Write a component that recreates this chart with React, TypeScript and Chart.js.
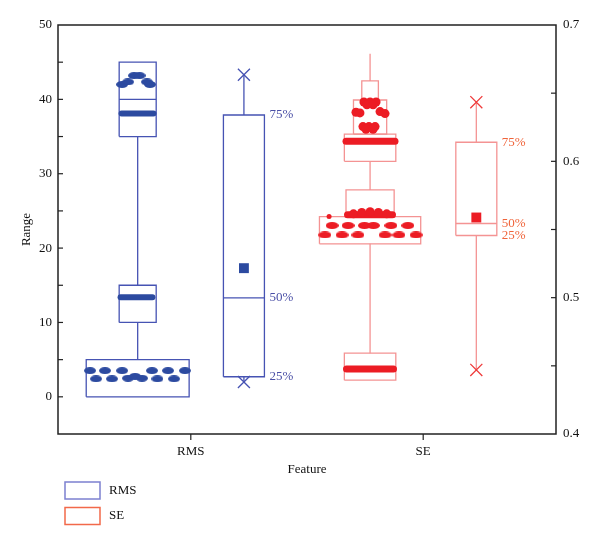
import React, { useEffect, useRef } from 'react';
import { Chart, registerables } from 'chart.js';

Chart.register(...registerables);

// ---------- data ----------
const CATEGORIES = ['RMS', 'SE'];
const CATEGORY_X = [0.8, 2.2];
const RAW_X = [0.48, 1.88];
const STAT_X = [1.12, 2.52];
const STAT_BOX_WIDTH = 0.247;
const LEFT_RANGE = [-5, 50];
const RIGHT_RANGE = [0.4, 0.7];
const PERCENT_LABELS = ['25%', '50%', '75%'];

// RMS (left axis): [low, high, width]
const RMS_BOXES = [
  [0, 5, 0.62],
  [10, 15, 0.223],
  [35, 45, 0.223],
];
const RMS_INNER_LINES = [[40, 0.223]]; // [y, width]
const RMS_WHISKERS = [
  [5, 10],
  [15, 35],
];
// [x, y]
const RMS_POINTS = [
  [0.193, 3.52], [0.283, 3.52], [0.386, 3.52], [0.566, 3.52], [0.663, 3.52], [0.765, 3.52],
  [0.229, 2.42], [0.325, 2.42], [0.599, 2.42], [0.699, 2.42],
  [0.422, 2.5], [0.464, 2.75], [0.506, 2.5],
  [0.458, 43.2], [0.491, 43.2],
  [0.386, 42.0], [0.422, 42.35], [0.536, 42.35], [0.554, 42.0],
];
// [y, xFrom, xTo]
const RMS_BANDS = [
  [38.1, 0.383, 0.575],
  [13.4, 0.377, 0.569],
];
// min, q1, median, q3, max, mean
const RMS_STATS = [2.0, 2.7, 13.3, 37.9, 43.3, 17.3];

// SE (right axis): [low, high, width]
const SE_BOXES = [
  [0.645, 0.659, 0.1],
  [0.62, 0.645, 0.2],
  [0.6, 0.62, 0.31],
  [0.5595, 0.579, 0.29],
  [0.5395, 0.5595, 0.61],
  [0.4395, 0.4593, 0.31],
];
const SE_WHISKERS = [
  [0.659, 0.679],
  [0.579, 0.6],
  [0.4593, 0.5395],
];
// round clusters [x, y]
const SE_CLUSTER_POINTS = [
  [1.843, 0.6435], [1.88, 0.6435], [1.916, 0.6435], [1.861, 0.6415], [1.898, 0.6415],
  [1.795, 0.636], [1.819, 0.6355], [1.94, 0.6365], [1.97, 0.635],
  [1.837, 0.6255], [1.873, 0.6255], [1.91, 0.6255], [1.855, 0.6235], [1.898, 0.6235],
  [1.78, 0.5615], [1.83, 0.5625], [1.88, 0.563], [1.93, 0.5625], [1.98, 0.5615],
];
// elongated blobs [x, y]
const SE_POINTS = [
  [1.651, 0.5529], [1.747, 0.5529], [1.846, 0.5529], [1.9, 0.5529], [2.006, 0.5529], [2.108, 0.5529],
  [1.608, 0.546], [1.711, 0.546], [1.807, 0.546], [1.97, 0.546], [2.054, 0.546], [2.157, 0.546],
];
const SE_SMALL_POINTS = [[1.633, 0.5596]];
const SE_BANDS = [
  [0.6147, 1.735, 2.03],
  [0.5608, 1.744, 2.015],
  [0.4476, 1.738, 2.021],
];
const SE_STATS = [0.447, 0.5456, 0.5544, 0.614, 0.6434, 0.5588];

// ---------- styles ----------
const FONT = 'Liberation Serif';
const BLUE_BOX = '#4653b3';
const BLUE_POINT = '#2c4aa0';
const BLUE_TEXT = '#4a4fa6';
const RED_BOX = '#f49393';
const RED_POINT = '#ec1c24';
const RED_TEXT = '#f0643a';
const LEGEND_COLORS = ['#7c80d0', '#f2694a'];

function ellipseImage(w: number, h: number, color: string) {
  const c = document.createElement('canvas');
  c.width = w;
  c.height = h;
  const g = c.getContext('2d')!;
  g.fillStyle = color;
  g.beginPath();
  g.ellipse(w / 2, h / 2, w / 2, h / 2, 0, 0, Math.PI * 2);
  g.fill();
  return c;
}

function boxPath(cx: number, lo: number, hi: number, w: number) {
  const l = cx - w / 2;
  const r = cx + w / 2;
  return [
    { x: l, y: lo },
    { x: r, y: lo },
    { x: r, y: hi },
    { x: l, y: hi },
    { x: l, y: lo },
  ];
}

function lineDs(data: any[], color: string, width: number, axis: string, order: number, extra: any = {}) {
  return {
    data,
    yAxisID: axis,
    showLine: true,
    borderColor: color,
    backgroundColor: color,
    borderWidth: width,
    pointRadius: 0,
    pointHoverRadius: 0,
    fill: false,
    tension: 0,
    order,
    ...extra,
  };
}

function buildGroup(
  axis: string,
  rawX: number,
  statX: number,
  boxes: number[][],
  inner: number[][],
  whiskers: number[][],
  bands: number[][],
  stats: number[],
  boxColor: string,
  pointColor: string,
  markerColor: string,
) {
  const ds: any[] = [];
  boxes.forEach(([lo, hi, w]) => ds.push(lineDs(boxPath(rawX, lo, hi, w), boxColor, 1.3, axis, 5, { borderJoinStyle: 'miter' })));
  inner.forEach(([y, w]) => ds.push(lineDs([{ x: rawX - w / 2, y }, { x: rawX + w / 2, y }], boxColor, 1.3, axis, 5)));
  whiskers.forEach(([a, b]) => ds.push(lineDs([{ x: rawX, y: a }, { x: rawX, y: b }], boxColor, 1.3, axis, 5)));
  bands.forEach(([y, x0, x1], i) =>
    ds.push(lineDs([{ x: x0, y }, { x: x1, y }], pointColor, axis === 'y' ? 6 : i === 1 ? 7 : 7, axis, 1, { borderCapStyle: 'round' })),
  );
  const [mn, q1, med, q3, mx, mean] = stats;
  const w = STAT_BOX_WIDTH;
  ds.push(lineDs(boxPath(statX, q1, q3, w), boxColor, 1.3, axis, 5, { borderJoinStyle: 'miter' }));
  ds.push(lineDs([{ x: statX - w / 2, y: med }, { x: statX + w / 2, y: med }], boxColor, 1.3, axis, 5));
  ds.push(lineDs([{ x: statX, y: q3 }, { x: statX, y: mx }], boxColor, 1.3, axis, 5));
  ds.push(lineDs([{ x: statX, y: mn }, { x: statX, y: q1 }], boxColor, 1.3, axis, 5));
  ds.push({
    data: [{ x: statX, y: mean }],
    yAxisID: axis,
    pointStyle: 'rect',
    pointRadius: 7,
    pointBackgroundColor: pointColor,
    pointBorderColor: pointColor,
    pointBorderWidth: 0,
    order: 0,
  });
  ds.push({
    data: [
      { x: statX, y: mn },
      { x: statX, y: mx },
    ],
    yAxisID: axis,
    pointStyle: 'crossRot',
    pointRadius: 8.5,
    pointBorderColor: markerColor,
    pointBackgroundColor: markerColor,
    pointBorderWidth: 1.3,
    order: 0,
  });
  return ds;
}

export default function App() {
  const ref = useRef<HTMLCanvasElement | null>(null);

  useEffect(() => {
    document.body.style.margin = '0';
    if (!ref.current) return;

    const blueBlob = ellipseImage(12, 7, BLUE_POINT);
    const redBlob = ellipseImage(13, 7, RED_POINT);

    const datasets: any[] = [
      ...buildGroup('y', RAW_X[0], STAT_X[0], RMS_BOXES, RMS_INNER_LINES, RMS_WHISKERS, RMS_BANDS, RMS_STATS, BLUE_BOX, BLUE_POINT, BLUE_BOX),
      ...buildGroup('y1', RAW_X[1], STAT_X[1], SE_BOXES, [], SE_WHISKERS, SE_BANDS, SE_STATS, RED_BOX, RED_POINT, '#ef3a3a'),
      {
        data: RMS_POINTS.map(([x, y]) => ({ x, y })),
        yAxisID: 'y',
        pointStyle: blueBlob,
        pointRadius: 5,
        order: 0,
      },
      {
        data: SE_POINTS.map(([x, y]) => ({ x, y })),
        yAxisID: 'y1',
        pointStyle: redBlob,
        pointRadius: 5,
        order: 0,
      },
      {
        data: SE_CLUSTER_POINTS.map(([x, y]) => ({ x, y })),
        yAxisID: 'y1',
        pointStyle: 'circle',
        pointRadius: 4.5,
        pointBackgroundColor: RED_POINT,
        pointBorderWidth: 0,
        order: 0,
      },
      {
        data: SE_SMALL_POINTS.map(([x, y]) => ({ x, y })),
        yAxisID: 'y1',
        pointStyle: 'circle',
        pointRadius: 2.5,
        pointBackgroundColor: RED_POINT,
        pointBorderWidth: 0,
        order: 0,
      },
    ];

    const decor = {
      id: 'decor',
      afterDraw(chart: any) {
        const { ctx, chartArea: a, scales } = chart;
        ctx.save();
        ctx.strokeStyle = '#222';
        ctx.lineWidth = 1.5;
        ctx.strokeRect(a.left, a.top, a.right - a.left, a.bottom - a.top);
        ctx.lineWidth = 1.2;
        const seg = (x0: number, y0: number, x1: number, y1: number) => {
          ctx.beginPath();
          ctx.moveTo(x0, y0);
          ctx.lineTo(x1, y1);
          ctx.stroke();
        };
        scales.y.ticks.forEach((t: any) => {
          if (t.value <= LEFT_RANGE[0] + 1e-9 || t.value >= LEFT_RANGE[1] - 1e-9) return;
          const py = scales.y.getPixelForValue(t.value);
          seg(a.left, py, a.left + 5, py);
        });
        scales.y1.ticks.forEach((t: any) => {
          if (t.value <= RIGHT_RANGE[0] + 1e-9 || t.value >= RIGHT_RANGE[1] - 1e-9) return;
          const py = scales.y1.getPixelForValue(t.value);
          seg(a.right - 5, py, a.right, py);
        });
        CATEGORY_X.forEach((v) => {
          const px = scales.x.getPixelForValue(v);
          seg(px, a.bottom, px, a.bottom + 6);
        });

        // percentile labels
        ctx.font = `13px "${FONT}"`;
        ctx.textAlign = 'left';
        ctx.textBaseline = 'middle';
        const groups = [
          { stats: RMS_STATS, axis: scales.y, color: BLUE_TEXT, x: STAT_X[0] },
          { stats: SE_STATS, axis: scales.y1, color: RED_TEXT, x: STAT_X[1] },
        ];
        groups.forEach((g) => {
          ctx.fillStyle = g.color;
          const lx = scales.x.getPixelForValue(g.x + STAT_BOX_WIDTH / 2) + 5;
          [g.stats[1], g.stats[2], g.stats[3]].forEach((v, i) => {
            ctx.fillText(PERCENT_LABELS[i], lx, g.axis.getPixelForValue(v));
          });
        });

        // legend
        ctx.lineWidth = 1.5;
        CATEGORIES.forEach((name, i) => {
          const top = 482 + i * 25.5;
          ctx.strokeStyle = LEGEND_COLORS[i];
          ctx.strokeRect(65, top, 35, 17);
          ctx.fillStyle = '#111';
          ctx.fillText(name, 109, top + 8.5);
        });
        ctx.restore();
      },
    };

    const chart = new Chart(ref.current, {
      type: 'scatter',
      data: { datasets },
      plugins: [decor],
      options: {
        animation: false,
        responsive: true,
        maintainAspectRatio: false,
        layout: { padding: { top: 25, left: 0, right: 0, bottom: 0 } },
        plugins: { legend: { display: false }, tooltip: { enabled: false } },
        events: [],
        font: { family: FONT, size: 13 },
        color: '#111',
        scales: {
          x: {
            type: 'linear',
            min: 0,
            max: 3,
            position: 'bottom',
            grid: { display: false, drawTicks: false },
            border: { display: false },
            afterBuildTicks: (s: any) => {
              s.ticks = CATEGORY_X.map((v) => ({ value: v }));
            },
            afterFit: (s: any) => {
              s.height = 112;
            },
            ticks: {
              padding: 10,
              color: '#111',
              font: { family: FONT, size: 13 },
              autoSkip: false,
              maxRotation: 0,
              callback: (v: any) => {
                const i = CATEGORY_X.indexOf(Number(v));
                return i >= 0 ? CATEGORIES[i] : '';
              },
            },
            title: {
              display: true,
              text: 'Feature',
              color: '#111',
              font: { family: FONT, size: 13 },
              padding: { top: 0, bottom: 69 },
            },
          },
          y: {
            type: 'linear',
            position: 'left',
            min: LEFT_RANGE[0],
            max: LEFT_RANGE[1],
            grid: { display: false, drawTicks: false },
            border: { display: false },
            afterFit: (s: any) => {
              s.width = 58;
            },
            ticks: {
              stepSize: 5,
              padding: 6,
              color: '#111',
              font: { family: FONT, size: 13 },
              autoSkip: false,
              callback: (v: any) => (v >= 0 && v % 10 === 0 ? String(v) : ''),
            },
            title: {
              display: true,
              text: 'Range',
              color: '#111',
              font: { family: FONT, size: 13 },
              padding: { top: 19, bottom: 0 },
            },
          },
          y1: {
            type: 'linear',
            position: 'right',
            min: RIGHT_RANGE[0],
            max: RIGHT_RANGE[1],
            grid: { display: false, drawTicks: false },
            border: { display: false },
            afterFit: (s: any) => {
              s.width = 44;
            },
            ticks: {
              stepSize: 0.05,
              padding: 7,
              color: '#111',
              font: { family: FONT, size: 13 },
              autoSkip: false,
              callback: (v: any) => {
                const t = Math.round(Number(v) * 100);
                return t % 10 === 0 ? (t / 100).toFixed(1) : '';
              },
            },
          },
        },
      } as any,
    });

    return () => chart.destroy();
  }, []);

  return (
    <div style={{ position: 'relative', width: 600, height: 546 }}>
      <canvas ref={ref} />
    </div>
  );
}
